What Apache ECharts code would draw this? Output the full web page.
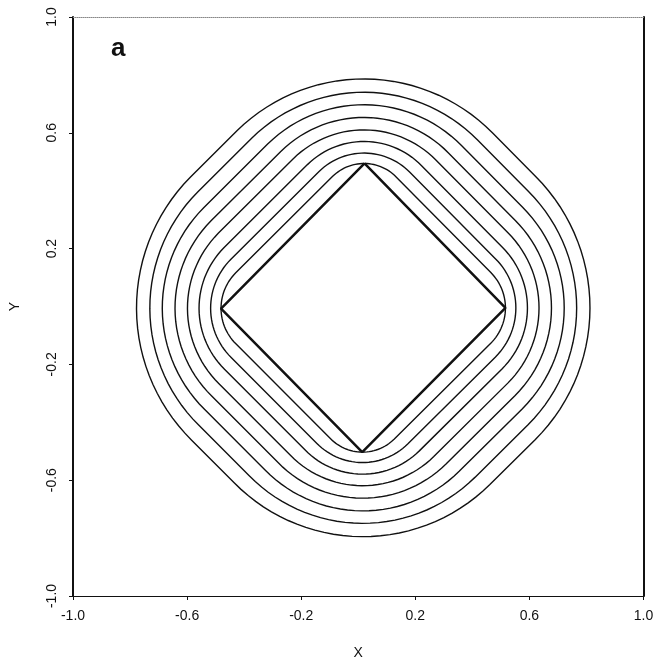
<!DOCTYPE html>
<html>
<head>
<meta charset="utf-8">
<script src="https://cdn.jsdelivr.net/npm/echarts@6/dist/echarts.min.js"></script>
<style>
html,body{margin:0;padding:0;background:#fff;}
#chart{width:658px;height:667px;}
</style>
</head>
<body>
<div id="chart"></div>
<script>
// ---- data ----
const xTicks = [-1.0, -0.6, -0.2, 0.2, 0.6, 1.0];
const yTicks = [-1.0, -0.6, -0.2, 0.2, 0.6, 1.0];
// diamond vertices: top, right, bottom, left, (back to top)
const diamondX = [0.022, 0.516, 0.014, -0.481, 0.022];
const diamondY = [0.494, -0.005, -0.503, -0.007, 0.494];
// contour extents beyond the diamond (in y-axis units):
// distance beyond each vertex, and beyond the middle of each edge
const contourVertexOffset = [0.000, 0.036, 0.076, 0.116, 0.159, 0.203, 0.246, 0.292];
const contourEdgeOffset   = [0.048, 0.093, 0.138, 0.187, 0.235, 0.285, 0.338, 0.392];
const panelLabel = 'a';
const xName = 'X';
const yName = 'Y';

const INK = '#111';
const FONT = 'Liberation Sans, Arial, sans-serif';

const chart = echarts.init(document.getElementById('chart'), null, {renderer: 'canvas'});

const diamondData = diamondX.map((x, i) => [x, diamondY[i]]);
const contourData = contourVertexOffset.map((a, i) => [a, contourEdgeOffset[i]]);

function renderContour(params, api) {
  const a = api.size([0, api.value(0)])[1];
  const b = api.size([0, api.value(1)])[1];
  const P = [0, 1, 2, 3].map(i => api.coord([diamondX[i], diamondY[i]]));
  const cx = (P[1][0] + P[3][0]) / 2;
  const cy = (P[0][1] + P[2][1]) / 2;
  const R = P.map(p => Math.hypot(p[0] - cx, p[1] - cy));
  const Rm = (R[0] + R[1] + R[2] + R[3]) / 4;
  const D = Rm / Math.SQRT2 + b;
  const order = [1, 2, 3, 0];
  const pts = [];
  const N = 30;
  order.forEach(i => {
    const p = P[i];
    const th = Math.atan2(p[1] - cy, p[0] - cx);
    const Rv = R[i] + a;
    let c = (Rv - D) / (1 - 1 / Math.SQRT2);
    if (c < 0) c = 0;
    const rho = Rv - c;
    const ax = cx + c * Math.cos(th), ay = cy + c * Math.sin(th);
    for (let j = 0; j <= N; j++) {
      const ang = th - Math.PI / 4 + j * (Math.PI / 2) / N;
      pts.push([ax + rho * Math.cos(ang), ay + rho * Math.sin(ang)]);
    }
  });
  return {
    type: 'polygon',
    shape: {points: pts},
    style: {fill: null, stroke: INK, lineWidth: 1.4}
  };
}

const axisLabelStyle = {fontSize: 14, color: INK, fontFamily: FONT};

const option = {
  animation: false,
  backgroundColor: '#fff',
  grid: {left: 71, right: 14.5, top: 17, bottom: 71, containLabel: false},
  xAxis: [
    {
      type: 'value', min: -1, max: 1, position: 'bottom',
      axisLine: {show: true, onZero: false, lineStyle: {color: INK, width: 1.2}},
      axisTick: {show: true, customValues: xTicks, length: 4, lineStyle: {color: INK, width: 1}},
      axisLabel: Object.assign({customValues: xTicks, margin: 13, formatter: v => Number(v).toFixed(1), showMinLabel: true, showMaxLabel: true}, axisLabelStyle),
      splitLine: {show: false},
      name: xName, nameLocation: 'middle', nameGap: 50,
      nameTextStyle: {fontSize: 14, color: INK, fontFamily: FONT}
    },
    {
      type: 'value', min: -1, max: 1, position: 'top',
      axisLine: {show: true, onZero: false, lineStyle: {color: '#888', width: 1, type: 'dotted'}},
      axisTick: {show: false}, axisLabel: {show: false}, splitLine: {show: false}
    }
  ],
  yAxis: [
    {
      type: 'value', min: -1, max: 1, position: 'left',
      axisLine: {show: true, onZero: false, lineStyle: {color: INK, width: 2}},
      axisTick: {show: true, customValues: yTicks, length: 4, lineStyle: {color: INK, width: 1}},
      axisLabel: Object.assign({customValues: yTicks, margin: 14, rotate: 90, formatter: v => Number(v).toFixed(1), showMinLabel: true, showMaxLabel: true}, axisLabelStyle),
      splitLine: {show: false},
      name: yName, nameLocation: 'middle', nameGap: 51, nameRotate: 90,
      nameTextStyle: {fontSize: 14, color: INK, fontFamily: FONT}
    },
    {
      type: 'value', min: -1, max: 1, position: 'right',
      axisLine: {show: true, onZero: false, lineStyle: {color: INK, width: 2}},
      axisTick: {show: false}, axisLabel: {show: false}, splitLine: {show: false}
    }
  ],
  graphic: [
    {
      type: 'text', left: 111, top: 36, silent: true,
      style: {text: panelLabel, fontSize: 26, fontWeight: 'bold', fill: INK, fontFamily: FONT}
    }
  ],
  series: [
    {
      type: 'custom', name: 'contours', xAxisIndex: 0, yAxisIndex: 0,
      coordinateSystem: 'cartesian2d', clip: false, silent: true,
      renderItem: renderContour,
      data: contourData,
      encode: {x: -1, y: -1}
    },
    {
      type: 'line', name: 'diamond', xAxisIndex: 0, yAxisIndex: 0,
      data: diamondData, symbol: 'none', smooth: false, silent: true,
      lineStyle: {color: INK, width: 2.5}
    }
  ]
};

chart.setOption(option);
</script>
</body>
</html>
